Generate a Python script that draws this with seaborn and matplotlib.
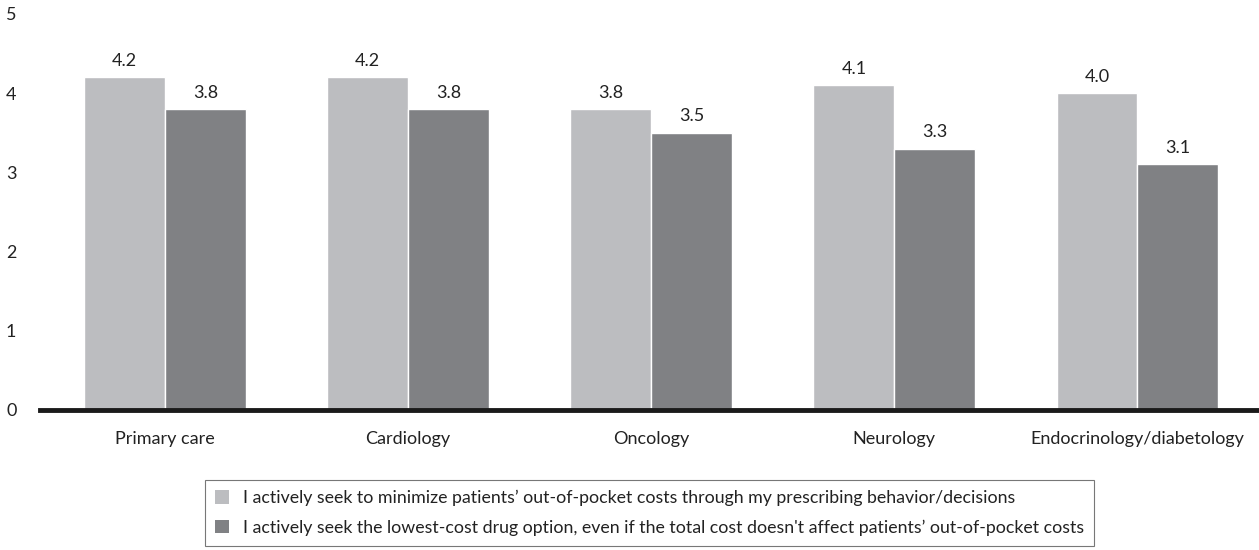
import matplotlib
matplotlib.use("Agg")
import matplotlib.pyplot as plt
import seaborn as sns
import pandas as pd

specialties = ["Primary care", "Cardiology", "Oncology", "Neurology", "Endocrinology/diabetology"]
minimize_oop = [4.2, 4.2, 3.8, 4.1, 4.0]
lowest_cost = [3.8, 3.8, 3.5, 3.3, 3.1]
series_names = [
    "I actively seek to minimize patients\u2019 out-of-pocket costs through my prescribing behavior/decisions",
    "I actively seek the lowest-cost drug option, even if the total cost doesn't affect patients\u2019 out-of-pocket costs",
]
y_ticks = [0, 1, 2, 3, 4, 5]

df = pd.DataFrame({
    "specialty": specialties * 2,
    "score": minimize_oop + lowest_cost,
    "statement": [series_names[0]] * len(specialties) + [series_names[1]] * len(specialties),
})

sns.set_style("white")
plt.rcParams["font.family"] = ["Lato", "DejaVu Sans"]

fig = plt.figure(figsize=(12.59, 5.5), dpi=100)
ax = fig.add_axes([40 / 1259, 140 / 550, 1 - 40 / 1259, 396 / 550])

palette = ["#bcbdc0", "#808184"]
sns.barplot(data=df, x="specialty", y="score", hue="statement", palette=palette,
            width=0.665, saturation=1, edgecolor="white", linewidth=1,
            ax=ax, legend=False)

for container in ax.containers:
    ax.bar_label(container, fmt="%.1f", padding=6, fontsize=13, color="#222222")

ax.set_ylim(0, 5)
ax.set_xlim(-0.514, 4.5)
ax.set_yticks(y_ticks)
ax.set_yticklabels([str(t) for t in y_ticks], fontsize=13, color="#222222")
ax.tick_params(axis="y", length=0, pad=17)
ax.tick_params(axis="x", length=0, pad=15, labelsize=13, labelcolor="#222222")
ax.set_xlabel("")
ax.set_ylabel("")
for side in ["top", "right", "left"]:
    ax.spines[side].set_visible(False)
ax.spines["bottom"].set_color("#1a1a1a")
ax.spines["bottom"].set_linewidth(3.5)

handles = [plt.Rectangle((0, 0), 1, 1, facecolor=c, edgecolor="none") for c in palette]
leg = fig.legend(handles, series_names, loc="upper left",
                 bbox_to_anchor=(205 / 1259, 1 - 480 / 550),
                 fontsize=12.8, frameon=True, fancybox=False, borderpad=0.55,
                 handlelength=0.8, handleheight=0.8, handletextpad=0.8,
                 labelspacing=0.75, borderaxespad=0)
leg.get_frame().set_edgecolor("#555555")
leg.get_frame().set_linewidth(0.8)
for t in leg.get_texts():
    t.set_color("#222222")

fig.savefig("out.png", dpi=100)
